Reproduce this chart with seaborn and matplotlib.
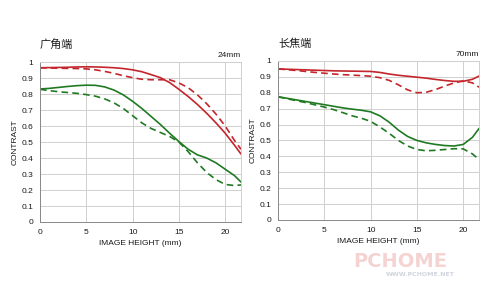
import matplotlib
matplotlib.use("Agg")
import matplotlib.pyplot as plt
import seaborn as sns
import numpy as np

sns.set_style("white")
plt.rcParams['font.family'] = ['Noto Sans CJK SC', 'DejaVu Sans']

# ---- data ----
x_pos = [0, 1, 2, 3, 4, 5, 6, 7, 8, 9, 10, 11, 12, 13, 14, 15, 16, 17, 18, 19, 20, 21, 21.7]

wide_red_solid = [0.965, 0.966, 0.967, 0.968, 0.970, 0.971, 0.970, 0.968, 0.965, 0.960, 0.952, 0.940,
                  0.922, 0.903, 0.872, 0.830, 0.785, 0.735, 0.680, 0.620, 0.555, 0.480, 0.425]
wide_red_dash = [0.965, 0.963, 0.962, 0.961, 0.960, 0.958, 0.952, 0.942, 0.930, 0.915, 0.903, 0.893,
                 0.890, 0.890, 0.890, 0.870, 0.840, 0.795, 0.740, 0.675, 0.600, 0.510, 0.455]
wide_green_solid = [0.832, 0.836, 0.842, 0.848, 0.853, 0.856, 0.855, 0.845, 0.825, 0.795, 0.755, 0.710,
                    0.660, 0.610, 0.555, 0.503, 0.455, 0.420, 0.400, 0.370, 0.330, 0.290, 0.250]
wide_green_dash = [0.830, 0.822, 0.815, 0.810, 0.805, 0.797, 0.787, 0.770, 0.745, 0.710, 0.665, 0.620,
                   0.585, 0.560, 0.535, 0.500, 0.440, 0.370, 0.310, 0.265, 0.235, 0.228, 0.232]

tele_red_solid = [0.950, 0.948, 0.946, 0.944, 0.942, 0.940, 0.938, 0.937, 0.936, 0.935, 0.934, 0.928,
                  0.918, 0.910, 0.904, 0.898, 0.892, 0.884, 0.877, 0.872, 0.872, 0.885, 0.905]
tele_red_dash = [0.950, 0.945, 0.940, 0.934, 0.928, 0.923, 0.918, 0.914, 0.911, 0.908, 0.904, 0.895,
                 0.878, 0.850, 0.818, 0.800, 0.803, 0.820, 0.842, 0.862, 0.875, 0.862, 0.835]
tele_green_solid = [0.775, 0.765, 0.755, 0.745, 0.735, 0.725, 0.715, 0.705, 0.697, 0.690, 0.680, 0.655,
                    0.615, 0.565, 0.525, 0.500, 0.485, 0.475, 0.468, 0.465, 0.475, 0.520, 0.575]
tele_green_dash = [0.775, 0.762, 0.750, 0.738, 0.724, 0.710, 0.694, 0.675, 0.655, 0.640, 0.620, 0.585,
                   0.545, 0.500, 0.465, 0.443, 0.435, 0.438, 0.443, 0.448, 0.447, 0.415, 0.380]

x_ticks = [0, 5, 10, 15, 20]
y_ticks = [0, 0.1, 0.2, 0.3, 0.4, 0.5, 0.6, 0.7, 0.8, 0.9, 1]
y_tick_labels = ["0", "0.1", "0.2", "0.3", "0.4", "0.5", "0.6", "0.7", "0.8", "0.9", "1"]
titles = ["广角端", "长焦端"]
focal = ["24mm", "70mm"]

RED = "#c3262c"
GREEN = "#1f7a22"
LAT = 'Liberation Sans'

fig = plt.figure(figsize=(5.0, 2.96), dpi=100)
ax1 = fig.add_axes([0.080, 0.250, 0.402, 0.540])
ax2 = fig.add_axes([0.556, 0.257, 0.402, 0.537])

panels = [
    (ax1, wide_red_solid, wide_red_dash, wide_green_solid, wide_green_dash),
    (ax2, tele_red_solid, tele_red_dash, tele_green_solid, tele_green_dash),
]

for i, (ax, rs, rd, gs, gd) in enumerate(panels):
    sns.lineplot(x=x_pos, y=rs, ax=ax, color=RED, lw=1.2)
    sns.lineplot(x=x_pos, y=rd, ax=ax, color=RED, lw=1.2)
    ax.lines[-1].set_linestyle((0, (4, 2.5)))
    sns.lineplot(x=x_pos, y=gs, ax=ax, color=GREEN, lw=1.2)
    sns.lineplot(x=x_pos, y=gd, ax=ax, color=GREEN, lw=1.2)
    ax.lines[-1].set_linestyle((0, (4, 2.5)))

    ax.set_xlim(0, 21.7)
    ax.set_ylim(0, 1)
    ax.set_xticks(x_ticks)
    ax.set_xticklabels([str(t) for t in x_ticks], fontsize=6, family=LAT)
    ax.set_yticks(y_ticks)
    ax.set_yticklabels(y_tick_labels, fontsize=6, family=LAT)
    ax.grid(True, color="#cfcfcf", lw=0.7)
    for s in ax.spines.values():
        s.set_color("#cfcfcf")
        s.set_linewidth(0.7)
    ax.spines['left'].set_color("#888888")
    ax.spines['bottom'].set_color("#888888")
    ax.tick_params(axis='both', length=2, width=0.6, color="#888888", pad=3, labelcolor="#1a1a1a")
    ax.set_xlabel("IMAGE HEIGHT (mm)", fontsize=6, family=LAT, labelpad=3, color="#1a1a1a")
    ax.set_ylabel("CONTRAST", fontsize=6, family=LAT, labelpad=2, color="#1a1a1a")
    ax.text(0.0, 1.075, titles[i], transform=ax.transAxes, fontsize=8, ha='left', va='bottom', color="#1a1a1a")
    ax.text(1.0, 1.02, focal[i], transform=ax.transAxes, fontsize=6, ha='right', va='bottom',
            family=LAT, color="#1a1a1a")

# faint watermark
fig.text(0.80, 0.118, "PCHOME", fontsize=14, color="#f3c8c8", ha='center', va='center',
         family='DejaVu Sans', fontweight='bold', alpha=0.8)
fig.text(0.84, 0.072, "WWW.PCHOME.NET", fontsize=4.5, color="#d0d4dc", ha='center', va='center',
         family='DejaVu Sans', fontweight='bold')

fig.savefig("out.png", dpi=100)
